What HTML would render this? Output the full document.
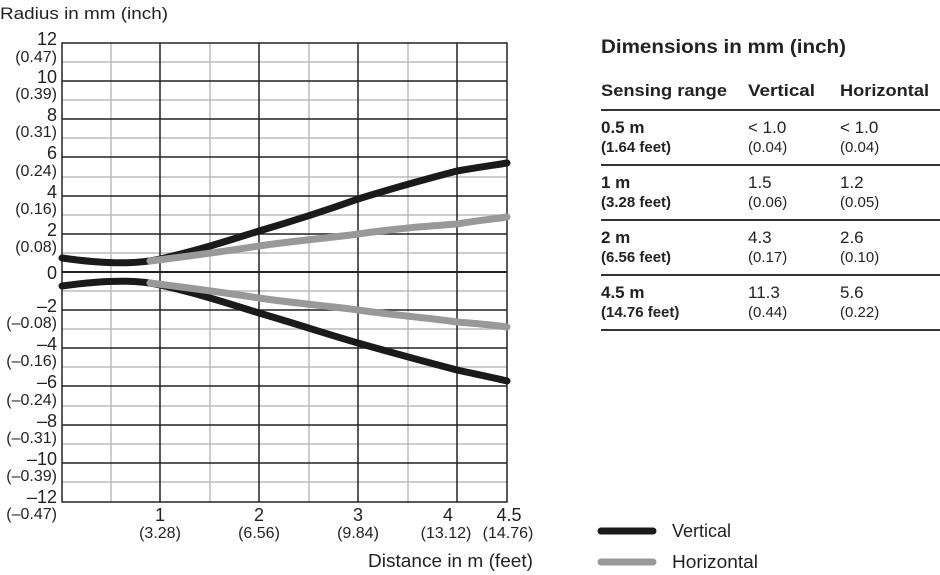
<!DOCTYPE html>
<html><head><style>
body{margin:0;background:#fff;}
svg{display:block;font-family:"Liberation Sans",sans-serif;}
</style></head><body>
<svg width="940" height="575" viewBox="0 0 940 575" xmlns="http://www.w3.org/2000/svg">
<text x="0" y="19" font-size="17" fill="#222" textLength="168" lengthAdjust="spacingAndGlyphs">Radius in mm (inch)</text>
<g stroke="#bbb" stroke-width="1.5">
<line x1="111" y1="43" x2="111" y2="502"/><line x1="210" y1="43" x2="210" y2="502"/>
<line x1="309" y1="43" x2="309" y2="502"/><line x1="408" y1="43" x2="408" y2="502"/>
<line x1="62" y1="62" x2="507" y2="62"/><line x1="62" y1="100" x2="507" y2="100"/>
<line x1="62" y1="138" x2="507" y2="138"/><line x1="62" y1="177" x2="507" y2="177"/>
<line x1="62" y1="215" x2="507" y2="215"/><line x1="62" y1="253" x2="507" y2="253"/>
<line x1="62" y1="291" x2="507" y2="291"/><line x1="62" y1="329" x2="507" y2="329"/>
<line x1="62" y1="367" x2="507" y2="367"/><line x1="62" y1="406" x2="507" y2="406"/>
<line x1="62" y1="444" x2="507" y2="444"/><line x1="62" y1="482" x2="507" y2="482"/>
</g>
<g stroke="#222" stroke-width="1.5">
<line x1="160" y1="43" x2="160" y2="502"/><line x1="259" y1="43" x2="259" y2="502"/>
<line x1="358" y1="43" x2="358" y2="502"/><line x1="457" y1="43" x2="457" y2="502"/>
<line x1="62" y1="81" x2="507" y2="81"/><line x1="62" y1="119" x2="507" y2="119"/>
<line x1="62" y1="157" x2="507" y2="157"/><line x1="62" y1="196" x2="507" y2="196"/>
<line x1="62" y1="234" x2="507" y2="234"/>
<line x1="62" y1="310" x2="507" y2="310"/><line x1="62" y1="348" x2="507" y2="348"/>
<line x1="62" y1="386" x2="507" y2="386"/><line x1="62" y1="425" x2="507" y2="425"/>
<line x1="62" y1="463" x2="507" y2="463"/>
<rect x="62" y="43" width="445" height="459" fill="none"/>
</g>
<line x1="62" y1="272" x2="507" y2="272" stroke="#222" stroke-width="2"/>
<g fill="none" stroke-linecap="round">
<path d="M62,258 C90,262 130,266 160,259 C200,250 230,240 259,231 C300,219 330,209 358,199 C400,186 430,178 457,171 C480,167 495,165 507,163" stroke="#1a1a1a" stroke-width="7"/>
<path d="M62,286 C90,282 130,278 160,285 C200,294 230,304 259,313 C300,325 330,335 358,343 C400,355 430,363 457,370 C480,375 495,378 507,381" stroke="#1a1a1a" stroke-width="7"/>
<path d="M150,261 C190,256 220,252 259,246 C300,240 330,238 358,234 C400,228 430,226 457,224 C480,220 495,219 507,217" stroke="#999" stroke-width="7"/>
<path d="M150,283 C190,288 220,292 259,298 C300,304 330,306 358,310 C400,316 430,318 457,322 C480,324 495,325 507,327" stroke="#999" stroke-width="7"/>
</g>
<g fill="#222" text-anchor="end">
<text x="57" y="45" font-size="18">12</text><text x="57" y="62" font-size="16">(0.47)</text>
<text x="57" y="83" font-size="18">10</text><text x="57" y="99" font-size="16">(0.39)</text>
<text x="57" y="121" font-size="18">8</text><text x="57" y="137" font-size="16">(0.31)</text>
<text x="57" y="159" font-size="18">6</text><text x="57" y="176" font-size="16">(0.24)</text>
<text x="57" y="198" font-size="18">4</text><text x="57" y="214" font-size="16">(0.16)</text>
<text x="57" y="236" font-size="18">2</text><text x="57" y="252" font-size="16">(0.08)</text>
<text x="57" y="279" font-size="18">0</text>
<text x="57" y="312" font-size="18">–2</text><text x="57" y="328" font-size="16">(–0.08)</text>
<text x="57" y="350" font-size="18">–4</text><text x="57" y="366" font-size="16">(–0.16)</text>
<text x="57" y="388" font-size="18">–6</text><text x="57" y="405" font-size="16">(–0.24)</text>
<text x="57" y="427" font-size="18">–8</text><text x="57" y="443" font-size="16">(–0.31)</text>
<text x="57" y="465" font-size="18">–10</text><text x="57" y="481" font-size="16">(–0.39)</text>
<text x="57" y="503" font-size="18">–12</text><text x="57" y="519" font-size="16">(–0.47)</text>
</g>
<g fill="#222" text-anchor="middle">
<text x="160" y="521" font-size="18">1</text><text x="160" y="538" font-size="16">(3.28)</text>
<text x="259" y="521" font-size="18">2</text><text x="259" y="538" font-size="16">(6.56)</text>
<text x="358" y="521" font-size="18">3</text><text x="358" y="538" font-size="16">(9.84)</text>
<text x="448" y="521" font-size="18">4</text><text x="446" y="538" font-size="16">(13.12)</text>
<text x="509" y="521" font-size="18">4.5</text><text x="508" y="538" font-size="16">(14.76)</text>
</g>
<text x="533" y="567" font-size="18" fill="#222" text-anchor="end" textLength="165" lengthAdjust="spacingAndGlyphs">Distance in m (feet)</text>
<line x1="601" y1="531" x2="653" y2="531" stroke="#1a1a1a" stroke-width="7" stroke-linecap="round"/>
<text x="672" y="537" font-size="18" fill="#222">Vertical</text>
<line x1="601" y1="562" x2="653" y2="562" stroke="#999" stroke-width="7" stroke-linecap="round"/>
<text x="672" y="568" font-size="18" fill="#222" textLength="86" lengthAdjust="spacingAndGlyphs">Horizontal</text>
<g fill="#222">
<text x="601" y="53" font-size="19" font-weight="bold" textLength="245" lengthAdjust="spacingAndGlyphs">Dimensions in mm (inch)</text>
<text x="601" y="96" font-size="17" font-weight="bold" textLength="126" lengthAdjust="spacingAndGlyphs">Sensing range</text>
<text x="748" y="96" font-size="17" font-weight="bold" textLength="67" lengthAdjust="spacingAndGlyphs">Vertical</text>
<text x="840" y="96" font-size="17" font-weight="bold" textLength="89" lengthAdjust="spacingAndGlyphs">Horizontal</text>
<text x="601" y="133" font-size="17" font-weight="bold">0.5 m</text><text x="601" y="152" font-size="15" font-weight="bold">(1.64 feet)</text>
<text x="748" y="133" font-size="17">&lt; 1.0</text><text x="748" y="152" font-size="15">(0.04)</text>
<text x="840" y="133" font-size="17">&lt; 1.0</text><text x="840" y="152" font-size="15">(0.04)</text>
<text x="601" y="188" font-size="17" font-weight="bold">1 m</text><text x="601" y="207" font-size="15" font-weight="bold">(3.28 feet)</text>
<text x="748" y="188" font-size="17">1.5</text><text x="748" y="207" font-size="15">(0.06)</text>
<text x="840" y="188" font-size="17">1.2</text><text x="840" y="207" font-size="15">(0.05)</text>
<text x="601" y="243" font-size="17" font-weight="bold">2 m</text><text x="601" y="262" font-size="15" font-weight="bold">(6.56 feet)</text>
<text x="748" y="243" font-size="17">4.3</text><text x="748" y="262" font-size="15">(0.17)</text>
<text x="840" y="243" font-size="17">2.6</text><text x="840" y="262" font-size="15">(0.10)</text>
<text x="601" y="298" font-size="17" font-weight="bold">4.5 m</text><text x="601" y="317" font-size="15" font-weight="bold">(14.76 feet)</text>
<text x="748" y="298" font-size="17">11.3</text><text x="748" y="317" font-size="15">(0.44)</text>
<text x="840" y="298" font-size="17">5.6</text><text x="840" y="317" font-size="15">(0.22)</text>
</g>
<g stroke="#333" stroke-width="2">
<line x1="601" y1="110" x2="940" y2="110"/><line x1="601" y1="165" x2="940" y2="165"/>
<line x1="601" y1="220" x2="940" y2="220"/><line x1="601" y1="275" x2="940" y2="275"/>
<line x1="601" y1="330" x2="940" y2="330"/>
</g>
</svg>
</body></html>
